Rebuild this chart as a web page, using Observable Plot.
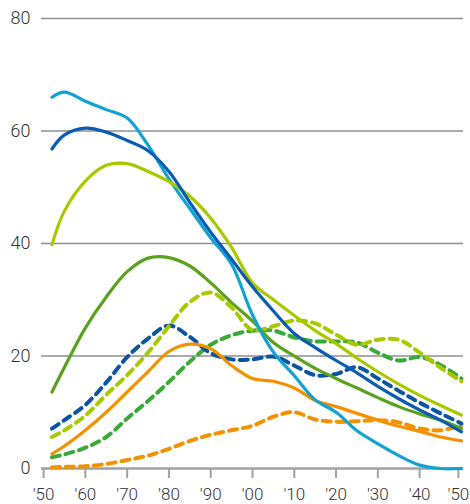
<!DOCTYPE html>
<html>
<head>
<meta charset="utf-8">
<script src="https://cdn.jsdelivr.net/npm/d3@7"></script>
<script src="https://cdn.jsdelivr.net/npm/@observablehq/plot@0.6"></script>
<style>
  html, body { margin: 0; padding: 0; background: #fff; }
  #chart { width: 470px; height: 504px; }
</style>
</head>
<body>
<div id="chart"></div>
<script>
const years = [1952,1955,1960,1965,1970,1975,1980,1985,1990,1995,2000,2005,2010,2015,2020,2025,2030,2035,2040,2045,2050];

// solid series
const cyanSolid   = [66.0,66.9,65.3,63.8,62.3,57.5,51.5,46.2,41.0,36.3,27.3,20.7,16.5,12.2,10.0,6.7,4.4,2.3,0.6,0,0];
const blueSolid   = [56.8,59.3,60.5,59.8,58.3,56.5,52.8,47.3,42.0,37.2,32.3,28.0,24.0,21.5,19.2,17.0,14.6,12.4,10.4,8.6,6.5];
const limeSolid   = [39.8,45.8,51.1,53.9,54.2,52.8,51.0,48.4,44.5,39.3,33.0,30.0,27.2,24.5,22.2,19.6,17.2,15.0,13.0,11.2,9.5];
const greenSolid  = [13.6,18.0,25.0,30.5,35.0,37.4,37.5,36.0,33.0,29.5,26.2,22.4,20.0,17.8,16.0,14.3,12.6,11.0,9.7,8.6,7.1];
const orangeSolid = [2.6,4.0,6.8,10.0,13.6,17.2,20.8,22.1,21.3,18.3,16.0,15.5,14.3,12.1,11.0,9.8,8.6,7.5,6.6,5.6,4.9];

// dashed series
const blueDashed   = [7.1,8.6,11.3,15.3,19.8,23.1,25.4,23.4,20.5,19.4,19.4,19.9,18.3,16.6,16.8,18.0,16.0,13.8,11.7,9.8,8.0];
const limeDashed   = [5.6,6.8,9.4,13.1,16.6,20.6,25.3,29.6,31.3,28.6,24.6,25.3,26.3,25.8,23.8,22.0,22.9,22.9,20.6,17.9,15.5];
const greenDashed  = [2.0,2.5,3.7,5.6,8.9,12.0,15.4,19.0,22.0,23.7,24.5,24.5,23.3,22.6,22.6,22.4,20.6,19.2,19.8,18.4,16.0];
const orangeDashed = [0.2,0.3,0.4,0.8,1.5,2.3,3.5,4.9,6.0,6.8,7.6,9.2,10.0,8.7,8.3,8.4,8.6,8.2,7.1,6.8,7.7];

const yTicks = [0,20,40,60,80];
const xTicks = [1950,1960,1970,1980,1990,2000,2010,2020,2030,2040,2050];
const xLabels = ["'50","'60","'70","'80","'90","'00","'10","'20","'30","'40","'50"];

const toRows = vals => years.map((y, i) => ({year: y, value: vals[i]}));

const dashedSeries = [
  {vals: orangeDashed, color: "#f39200"},
  {vals: greenDashed,  color: "#3aa935"},
  {vals: blueDashed,   color: "#0a55a3"},
  {vals: limeDashed,   color: "#aac800"}
];
const solidSeries = [
  {vals: orangeSolid, color: "#f39200"},
  {vals: greenSolid,  color: "#5aa21e"},
  {vals: cyanSolid,   color: "#10a3d2"},
  {vals: limeSolid,   color: "#aac800"},
  {vals: blueSolid,   color: "#0a5cb2"}
];

const fmtX = d => xLabels[xTicks.indexOf(d)];
const axisOpts = {tickSize: 10, tickPadding: 9, fontSize: 17, fontWeight: 300, fill: "#333", stroke: "#a0a0a0", strokeWidth: 2, label: null, tickFormat: fmtX};

const chart = Plot.plot({
  width: 470,
  height: 504,
  marginLeft: 41,
  marginRight: 7,
  marginTop: 18,
  marginBottom: 36,
  x: {domain: [1949.5, 2050.5]},
  y: {domain: [0, 80]},
  style: {fontFamily: "Roboto, 'DejaVu Sans', sans-serif", fontSize: "17px", color: "#333", background: "#fff"},
  marks: [
    Plot.ruleY(yTicks.filter(d => d > 0), {stroke: "#8f8f8f", strokeWidth: 1.3}),
    Plot.axisY(yTicks, {tickSize: 0, tickPadding: 11, fontSize: 18, fontWeight: 300, fill: "#333", label: null}),
    Plot.axisX(xTicks.slice(0, -1), axisOpts),
    Plot.axisX(xTicks.slice(-1), {...axisOpts, dx: -3}),
    Plot.ruleY([0], {stroke: "#a0a0a0", strokeWidth: 2.5}),
    ...dashedSeries.map(s => Plot.line(toRows(s.vals), {x: "year", y: "value", stroke: s.color, strokeWidth: 4, strokeDasharray: "8,6", curve: "catmull-rom"})),
    ...solidSeries.map(s => Plot.line(toRows(s.vals), {x: "year", y: "value", stroke: s.color, strokeWidth: 3.2, curve: "catmull-rom"}))
  ]
});
document.getElementById("chart").appendChild(chart);
</script>
</body>
</html>
